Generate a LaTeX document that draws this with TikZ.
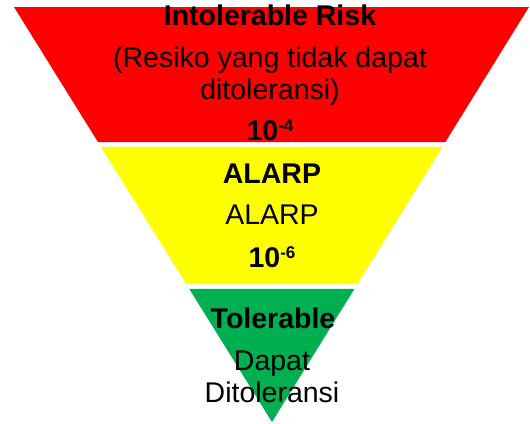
\documentclass[tikz,border=0pt]{standalone}
\usepackage{fontspec}
\setmainfont{Liberation Sans}
\usetikzlibrary{calc}
\definecolor{riskred}{HTML}{FF0000}
\definecolor{riskyellow}{HTML}{FFFF00}
\definecolor{riskgreen}{HTML}{00B050}
\tikzstyle{lbl} = [anchor=base, inner sep=0pt, font=\fontsize{28.5}{32}\selectfont]
\tikzstyle{lblb} = [lbl, font=\fontsize{28.5}{32}\selectfont\bfseries]
\newcommand{\tenpow}[1]{10\raisebox{9pt}{\fontsize{17}{17}\selectfont\bfseries #1}}

\begin{document}
\begin{tikzpicture}[x=1pt,y=-1pt]
  \useasboundingbox (0,0) rectangle (530,423);
  \coordinate (tl) at (14,7);
  \coordinate (tr) at (529,7);
  \coordinate (apex) at (272,422);
  % bands, cut at y=142/147 and y=284/289
  \fill[riskred] (tl) -- (tr) -- ($(tr)!0.3253!(apex)$) -- ($(tl)!0.3253!(apex)$) -- cycle;
  \fill[riskyellow] ($(tl)!0.3373!(apex)$) -- ($(tr)!0.3373!(apex)$)
    -- ($(tr)!0.6675!(apex)$) -- ($(tl)!0.6675!(apex)$) -- cycle;
  \fill[riskgreen] ($(tl)!0.6795!(apex)$) -- ($(tr)!0.6795!(apex)$) -- (apex) -- cycle;
  % red
  \node[lblb] (intol) at (270,25) {Intolerable Risk};
  \node[lbl] (intol1) at (270,67) {(Resiko yang tidak dapat};
  \node[lbl] (intol2) at (270,99) {ditoleransi)};
  \node[lblb] (lim4) at (270,140) {\tenpow{-4}};
  % yellow
  \node[lblb] (alarp) at (272,183) {ALARP};
  \node[lbl] (alarp1) at (272,224) {ALARP};
  \node[lblb] (lim6) at (272,267) {\tenpow{-6}};
  % green
  \node[lblb] (tol) at (273,328) {Tolerable};
  \node[lbl] (tol1) at (272,370) {Dapat};
  \node[lbl] (tol2) at (272,402) {Ditoleransi};
\end{tikzpicture}
\end{document}
